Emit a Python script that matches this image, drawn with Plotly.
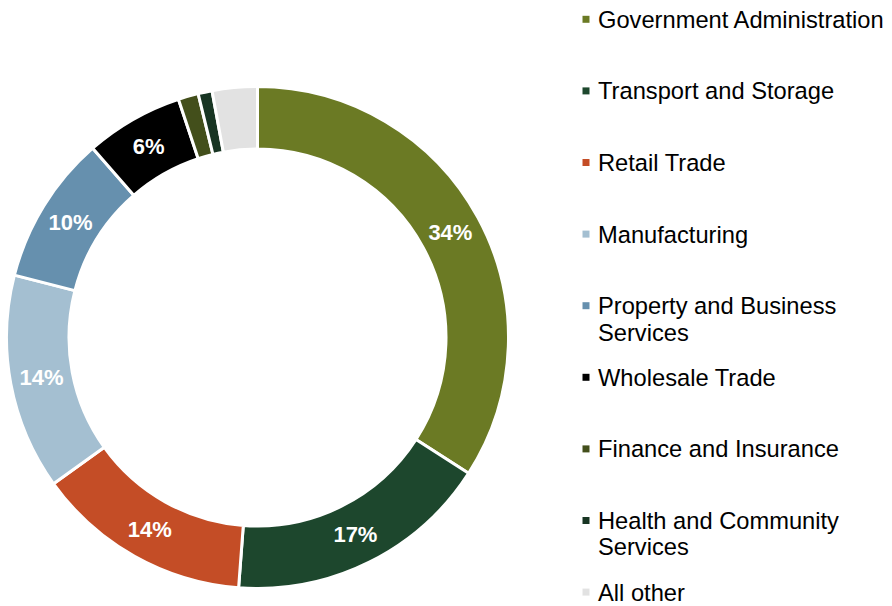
import plotly.graph_objects as go

# Sector shares of employment (%), clockwise from 12 o'clock
sectors = [
    "Government Administration",
    "Transport and Storage",
    "Retail Trade",
    "Manufacturing",
    "Property and Business<br>Services",
    "Wholesale Trade",
    "Finance and Insurance",
    "Health and Community<br>Services",
    "All other",
]
shares = [34.1, 17.1, 13.9, 13.9, 9.6, 6.3, 1.3, 0.9, 2.9]
colors = [
    "#6B7A24", "#1D472D", "#C44D26", "#A4BFD1", "#6690AE",
    "#000000", "#434F1B", "#183523", "#E2E2E2",
]
# slices large enough to carry a percentage label
show_label = [True, True, True, True, True, True, False, False, False]

W, H = 892, 606
FONT = "Liberation Sans, Arial, sans-serif"


def px(x):
    return x / W


def py(y):
    return 1 - y / H


cx, cy, r = 257.5, 337.5, 251.0

fig = go.Figure(
    go.Pie(
        labels=[s.replace("<br>", " ") for s in sectors],
        values=shares,
        hole=188.5 / r,
        sort=False,
        direction="clockwise",
        rotation=0,
        marker=dict(colors=colors, line=dict(color="white", width=3)),
        texttemplate=["%{percent:.0%}" if s else "" for s in show_label],
        textposition="inside",
        insidetextorientation="horizontal",
        textfont=dict(family=FONT, size=22, color="white", weight="bold"),
        showlegend=False,
        domain=dict(x=[px(cx - r), px(cx + r)], y=[py(cy + r), py(cy - r)]),
    )
)

# Hand-built legend: coloured square plus label lines
row_top = 19.8
row_pitch = 71.6
line_pitch = 26.5
shapes = []
annotations = []
for i, (name, col) in enumerate(zip(sectors, colors)):
    yc = row_top + i * row_pitch
    shapes.append(dict(
        type="rect", xref="paper", yref="paper",
        x0=px(582.5), x1=px(589.5), y0=py(yc + 3), y1=py(yc - 4),
        fillcolor=col, line=dict(width=0),
    ))
    for j, line in enumerate(name.split("<br>")):
        annotations.append(dict(
            xref="paper", yref="paper", x=px(595.5), y=py(yc + j * line_pitch),
            xanchor="left", yanchor="middle", showarrow=False, text=line,
            font=dict(family=FONT, size=23.7, color="black"),
        ))

fig.update_layout(
    width=W, height=H,
    margin=dict(l=0, r=0, t=0, b=0),
    paper_bgcolor="white", plot_bgcolor="white",
    shapes=shapes, annotations=annotations,
)

fig.write_html("out.html")
